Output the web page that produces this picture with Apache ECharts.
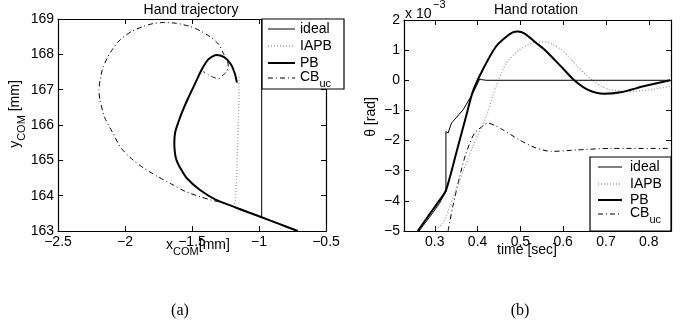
<!DOCTYPE html>
<html><head><meta charset="utf-8">
<script src="https://cdn.jsdelivr.net/npm/echarts@6/dist/echarts.min.js"></script>
<style>html,body{margin:0;padding:0;background:#fff}#c{width:689px;height:330px}</style>
</head><body><div id="c"></div>
<script>
// ---- Left panel: hand trajectory (x_COM, y_COM) ----
const trajIdealX = [-0.71, -0.98, -0.98];
const trajIdealY = [163.0, 163.39, 169.0];
const trajIAPBX = [-0.71, -0.98, -1.19, -1.175, -1.17, -1.165, -1.16, -1.155, -1.15, -1.15];
const trajIAPBY = [163.0, 163.39, 163.69, 163.9, 164.3, 164.8, 165.4, 166.0, 166.8, 167.42];
const trajPBX = [-0.71, -0.85, -0.98, -1.08, -1.19, -1.32, -1.44, -1.54, -1.59, -1.615, -1.627, -1.632, -1.625, -1.60, -1.57, -1.53, -1.48, -1.43, -1.38, -1.32, -1.26, -1.21, -1.18, -1.165];
const trajPBY = [163.0, 163.2, 163.39, 163.53, 163.69, 163.88, 164.16, 164.5, 164.8, 165.0, 165.2, 165.5, 165.8, 166.1, 166.4, 166.75, 167.15, 167.55, 167.85, 167.98, 167.92, 167.72, 167.45, 167.2];
const trajCBX = [-0.71, -0.98, -1.19, -1.25, -1.35, -1.44, -1.55, -1.64, -1.76, -1.86, -1.94, -2.03, -2.09, -2.15, -2.187, -2.194, -2.185, -2.162, -2.11, -2.037, -1.95, -1.863, -1.79, -1.714, -1.62, -1.515, -1.44, -1.366, -1.30, -1.266, -1.235, -1.229, -1.245, -1.266, -1.304, -1.34, -1.38, -1.416];
const trajCBY = [163.0, 163.39, 163.69, 163.78, 163.87, 163.97, 164.12, 164.30, 164.55, 164.78, 165.01, 165.35, 165.77, 166.2, 166.71, 166.99, 167.3, 167.65, 168.05, 168.41, 168.65, 168.79, 168.87, 168.90, 168.88, 168.79, 168.67, 168.50, 168.28, 168.03, 167.8, 167.65, 167.5, 167.42, 167.31, 167.35, 167.43, 167.51];

// ---- Right panel: hand rotation theta (x 10^-3 rad) vs time ----
const rotIdealT = [0.263, 0.29, 0.31, 0.326, 0.326, 0.331, 0.339, 0.366, 0.389, 0.405, 0.41, 0.42, 0.85];
const rotIdealV = [-5, -4.5, -4.1, -3.69, -1.70, -1.75, -1.42, -0.98, -0.43, 0.04, 0.02, 0, 0];
const rotPBT = [0.26, 0.29, 0.31, 0.326, 0.35, 0.373, 0.389, 0.412, 0.443, 0.465, 0.482, 0.494, 0.51, 0.537, 0.556, 0.595, 0.626, 0.657, 0.695, 0.734, 0.788, 0.85];
const rotPBV = [-5, -4.4, -4.0, -3.65, -2.42, -1.2, -0.37, 0.35, 1.12, 1.42, 1.59, 1.62, 1.55, 1.24, 1.02, 0.46, 0.0, -0.31, -0.45, -0.40, -0.2, 0];
const rotIAPBT = [0.296, 0.319, 0.335, 0.358, 0.389, 0.42, 0.443, 0.467, 0.498, 0.529, 0.556, 0.575, 0.595, 0.615, 0.633, 0.652, 0.672, 0.69, 0.711, 0.75, 0.788, 0.85];
const rotIAPBV = [-5, -4.74, -4.19, -3.31, -2.2, -1.2, -0.21, 0.57, 1.01, 1.24, 1.27, 1.2, 1.02, 0.75, 0.46, 0.2, -0.03, -0.2, -0.31, -0.37, -0.34, -0.2];
const rotCBT = [0.331, 0.342, 0.358, 0.373, 0.393, 0.416, 0.424, 0.44, 0.459, 0.498, 0.537, 0.572, 0.633, 0.711, 0.85];
const rotCBV = [-5, -4.19, -3.2, -2.42, -1.75, -1.48, -1.42, -1.5, -1.64, -1.98, -2.25, -2.36, -2.31, -2.26, -2.26];

const timeTicks = [0.3, 0.4, 0.5, 0.6, 0.7, 0.8];
const legendNames = ['ideal', 'IAPB', 'PB', 'CB'];

const zip = (a, b) => a.map((v, i) => [v, b[i]]);
const FONT = 'Liberation Sans, Arial, Helvetica, sans-serif';
const FS = 14;
const minus = v => String(v).replace('-', '\u2212');

function axisCommon(showLabel) {
  return {
    axisLine: { show: true, onZero: false, lineStyle: { color: '#000', width: 1.2 } },
    axisTick: { show: true, inside: true, length: 5, lineStyle: { color: '#000' } },
    axisLabel: { show: showLabel, color: '#000', fontSize: FS, fontFamily: FONT, formatter: minus, margin: 4 },
    splitLine: { show: false }
  };
}

const STY = {
  ideal: { color: '#000', width: 1, type: 'solid' },
  IAPB: { color: '#9a9a9a', width: 1.3, type: [1, 2] },
  PB: { color: '#000', width: 2, type: 'solid' },
  CB: { color: '#000', width: 1, type: [5, 3, 1, 3] }
};

function line(name, xi, yi, data, smooth) {
  return { name, type: 'line', xAxisIndex: xi, yAxisIndex: yi, data, showSymbol: false, symbol: 'none',
    smooth: smooth ? 0.25 : false, lineStyle: STY[name], itemStyle: { color: STY[name].color }, animation: false, silent: true };
}

const bx = (ax) => Object.assign(axisCommon(true), ax);
const chart = echarts.init(document.getElementById('c'), null, { renderer: 'canvas' });

const txt = (x, y, text, extra) => ({ type: 'text', x, y, z: 100, style: Object.assign({ text, fill: '#000', font: FS + 'px ' + FONT, textAlign: 'center', textVerticalAlign: 'middle' }, extra || {}) });
// subscript: main token sits at top of a 27px line, subscript centred in it (~6.5px lower)
const richSub = { m: { fontSize: FS, fontFamily: FONT, lineHeight: 14, verticalAlign: 'top' }, s: { fontSize: 11, fontFamily: FONT, lineHeight: 27, verticalAlign: 'middle' } };
const richPlain = { m: { fontSize: FS, fontFamily: FONT, lineHeight: 15 } };

function legend(x0, y0, w, h, rows, lx0, lx1, tx) {
  const els = [{ type: 'rect', z: 90, shape: { x: x0, y: y0, width: w, height: h }, style: { fill: '#fff', stroke: '#000', lineWidth: 1.2 } }];
  legendNames.forEach((n, i) => {
    const s = STY[n];
    els.push({ type: 'line', z: 95, shape: { x1: lx0, y1: rows[i], x2: lx1, y2: rows[i] },
      style: { stroke: s.color, lineWidth: s.width, lineDash: s.type === 'solid' ? null : s.type } });
    const isCB = n === 'CB';
    els.push({ type: 'text', z: 95, x: tx, y: rows[i] + (isCB ? 5.5 : 0), style: { text: isCB ? '{m|CB}{s|uc}' : '{m|' + n + '}', rich: isCB ? richSub : richPlain, fill: '#000', textAlign: 'left', textVerticalAlign: 'middle' } });
  });
  return els;
}

const option = {
  backgroundColor: '#fff',
  animation: false,
  grid: [
    { left: 58, top: 19, width: 268, height: 212 },
    { left: 404, top: 20, width: 267, height: 211 }
  ],
  xAxis: [
    bx({ type: 'value', gridIndex: 0, min: -2.5, max: -0.5, interval: 0.5, position: 'bottom' }),
    Object.assign(axisCommon(false), { type: 'value', gridIndex: 0, min: -2.5, max: -0.5, interval: 0.5, position: 'top' }),
    bx({ type: 'value', gridIndex: 1, min: 0.228, max: 0.852, position: 'bottom',
      axisTick: { show: true, inside: true, length: 5, customValues: timeTicks, lineStyle: { color: '#000' } },
      axisLabel: { show: true, color: '#000', fontSize: FS, fontFamily: FONT, margin: 4, customValues: timeTicks, formatter: v => String(Math.round(v * 10) / 10) } }),
    Object.assign(axisCommon(false), { type: 'value', gridIndex: 1, min: 0.228, max: 0.852, position: 'top',
      axisTick: { show: true, inside: true, length: 5, customValues: timeTicks, lineStyle: { color: '#000' } } })
  ],
  yAxis: [
    bx({ type: 'value', gridIndex: 0, min: 163, max: 169, interval: 1, position: 'left' }),
    Object.assign(axisCommon(false), { type: 'value', gridIndex: 0, min: 163, max: 169, interval: 1, position: 'right' }),
    bx({ type: 'value', gridIndex: 1, min: -5, max: 2, interval: 1, position: 'left' }),
    Object.assign(axisCommon(false), { type: 'value', gridIndex: 1, min: -5, max: 2, interval: 1, position: 'right' })
  ],
  series: [
    line('CB', 0, 0, zip(trajCBX, trajCBY), true),
    line('IAPB', 0, 0, zip(trajIAPBX, trajIAPBY), true),
    line('ideal', 0, 0, zip(trajIdealX, trajIdealY), false),
    line('PB', 0, 0, zip(trajPBX, trajPBY), true),
    line('CB', 2, 2, zip(rotCBT, rotCBV), true),
    line('IAPB', 2, 2, zip(rotIAPBT, rotIAPBV), true),
    line('ideal', 2, 2, zip(rotIdealT, rotIdealV), false),
    line('PB', 2, 2, zip(rotPBT, rotPBV), true)
  ],
  graphic: [
    txt(191, 10, 'Hand trajectory'),
    txt(536, 10, 'Hand rotation'),
    { type: 'text', z: 100, x: 405, y: 14, style: { text: 'x 10', fill: '#000', font: FS + 'px ' + FONT, textAlign: 'left', textVerticalAlign: 'middle' } },
    { type: 'text', z: 100, x: 433, y: 5, style: { text: '\u22123', fill: '#000', font: '11px ' + FONT, textAlign: 'left', textVerticalAlign: 'middle' } },
    { type: 'text', z: 100, x: 22, y: 114, rotation: Math.PI / 2, style: { text: '{m|y}{s|COM}{m| [mm]}', rich: richSub, fill: '#000', textAlign: 'center', textVerticalAlign: 'middle' } },
    { type: 'text', z: 100, x: 198, y: 252, style: { text: '{m|x}{s|COM}{m|[mm]}', rich: richSub, fill: '#000', textAlign: 'center', textVerticalAlign: 'middle' } },
    { type: 'text', z: 100, x: 371, y: 117, rotation: Math.PI / 2, style: { text: '\u03b8 [rad]', fill: '#000', font: FS + 'px ' + FONT, textAlign: 'center', textVerticalAlign: 'middle' } },
    txt(527, 250, 'time [sec]'),
    txt(180, 311, '(a)', { font: '16px Liberation Serif, Times New Roman, serif' }),
    txt(520, 311, '(b)', { font: '16px Liberation Serif, Times New Roman, serif' }),
    ...legend(262, 19, 82, 70, [29, 46, 63, 78], 268, 295, 300),
    ...legend(590, 157, 81, 74, [167, 184, 200, 214], 598, 622, 630)
  ]
};
chart.setOption(option);
</script></body></html>
